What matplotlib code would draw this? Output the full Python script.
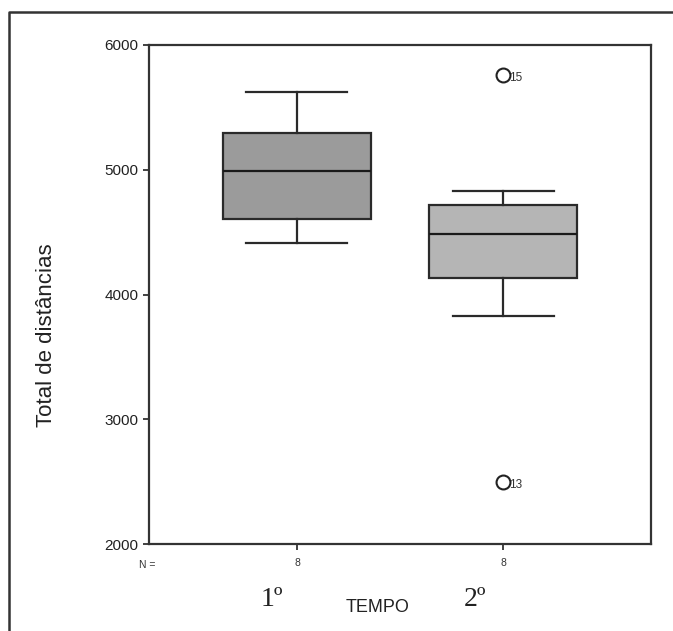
import matplotlib
matplotlib.use("Agg")
import matplotlib.pyplot as plt
from matplotlib.lines import Line2D

# ---- data ----
groups = ["1º", "2º"]
n_counts = [8, 8]
whisker_low = [4413, 3828]
q1 = [4605, 4132]
median = [4990, 4485]
q3 = [5295, 4717]
whisker_high = [5623, 4830]
outlier_values = [[], [5760, 2497]]
outlier_ids = [[], ["15", "13"]]
box_colors = ["#9b9b9b", "#b5b5b5"]
yticks = [2000, 3000, 4000, 5000, 6000]

plt.rcParams['font.family'] = ['Liberation Sans', 'DejaVu Sans']

fig = plt.figure(figsize=(6.73, 6.31), dpi=100)
ax = fig.add_axes([149/673, 87/631, 502/673, 499/631])

stats = []
for i in range(len(groups)):
    stats.append(dict(med=median[i], q1=q1[i], q3=q3[i],
                      whislo=whisker_low[i], whishi=whisker_high[i],
                      fliers=[]))

positions = list(range(len(groups)))
bp = ax.bxp(stats, positions=positions, widths=0.714, patch_artist=True,
            showfliers=False,
            boxprops=dict(edgecolor="#2a2a2a", linewidth=1.6),
            medianprops=dict(color="#1a1a1a", linewidth=1.6),
            whiskerprops=dict(color="#2a2a2a", linewidth=1.6),
            capprops=dict(color="#2a2a2a", linewidth=1.6),
            capwidths=0.49)
for patch, c in zip(bp['boxes'], box_colors):
    patch.set_facecolor(c)

for i, (vals, ids) in enumerate(zip(outlier_values, outlier_ids)):
    for v, lab in zip(vals, ids):
        ax.plot(positions[i], v, marker='o', markersize=10, markerfacecolor='white',
                markeredgecolor='#222222', markeredgewidth=1.5, linestyle='none', zorder=5)
        ax.annotate(lab, xy=(positions[i], v), xytext=(4.5, -2.5), textcoords='offset points',
                    fontsize=8.5, color='#333333', va='center', ha='left')

ax.set_xlim(-0.718, 1.718)
ax.set_ylim(2000, 6000)
ax.set_yticks(yticks)
ax.set_yticklabels([str(t) for t in yticks], fontsize=11, color='#222222')
ax.set_xticks(positions)
ax.set_xticklabels([str(n) for n in n_counts], fontsize=7.5, color='#333333')
ax.tick_params(axis='both', direction='out', length=4, width=1.3, color='#333333')
ax.tick_params(axis='x', pad=6)
for s in ax.spines.values():
    s.set_linewidth(1.6)
    s.set_color('#333333')

fig.text(47/673, 1 - 335/631, "Total de distâncias", fontsize=16, rotation=90,
         ha='center', va='center', color='#222222')

fig.text(147/673, 1 - 565/631, "N =", fontsize=7.5, ha='center', va='center', color='#333333')
fig.text(272/673, 1 - 600/631, groups[0], fontsize=20, ha='center', va='center',
         family=['Liberation Serif', 'DejaVu Serif'], color='#222222')
fig.text(475/673, 1 - 600/631, groups[1], fontsize=20, ha='center', va='center',
         family=['Liberation Serif', 'DejaVu Serif'], color='#222222')
fig.text(378/673, 1 - 607/631, "TEMPO", fontsize=13, ha='center', va='center', color='#222222')

# outer frame (top and left edges visible in the cropped reference)
fig.add_artist(Line2D([9/673, 9/673, 1.0], [0.0, 1 - 12/631, 1 - 12/631],
                      transform=fig.transFigure, color='#333333', linewidth=1.8))

fig.savefig("out.png", dpi=100, facecolor='white')
